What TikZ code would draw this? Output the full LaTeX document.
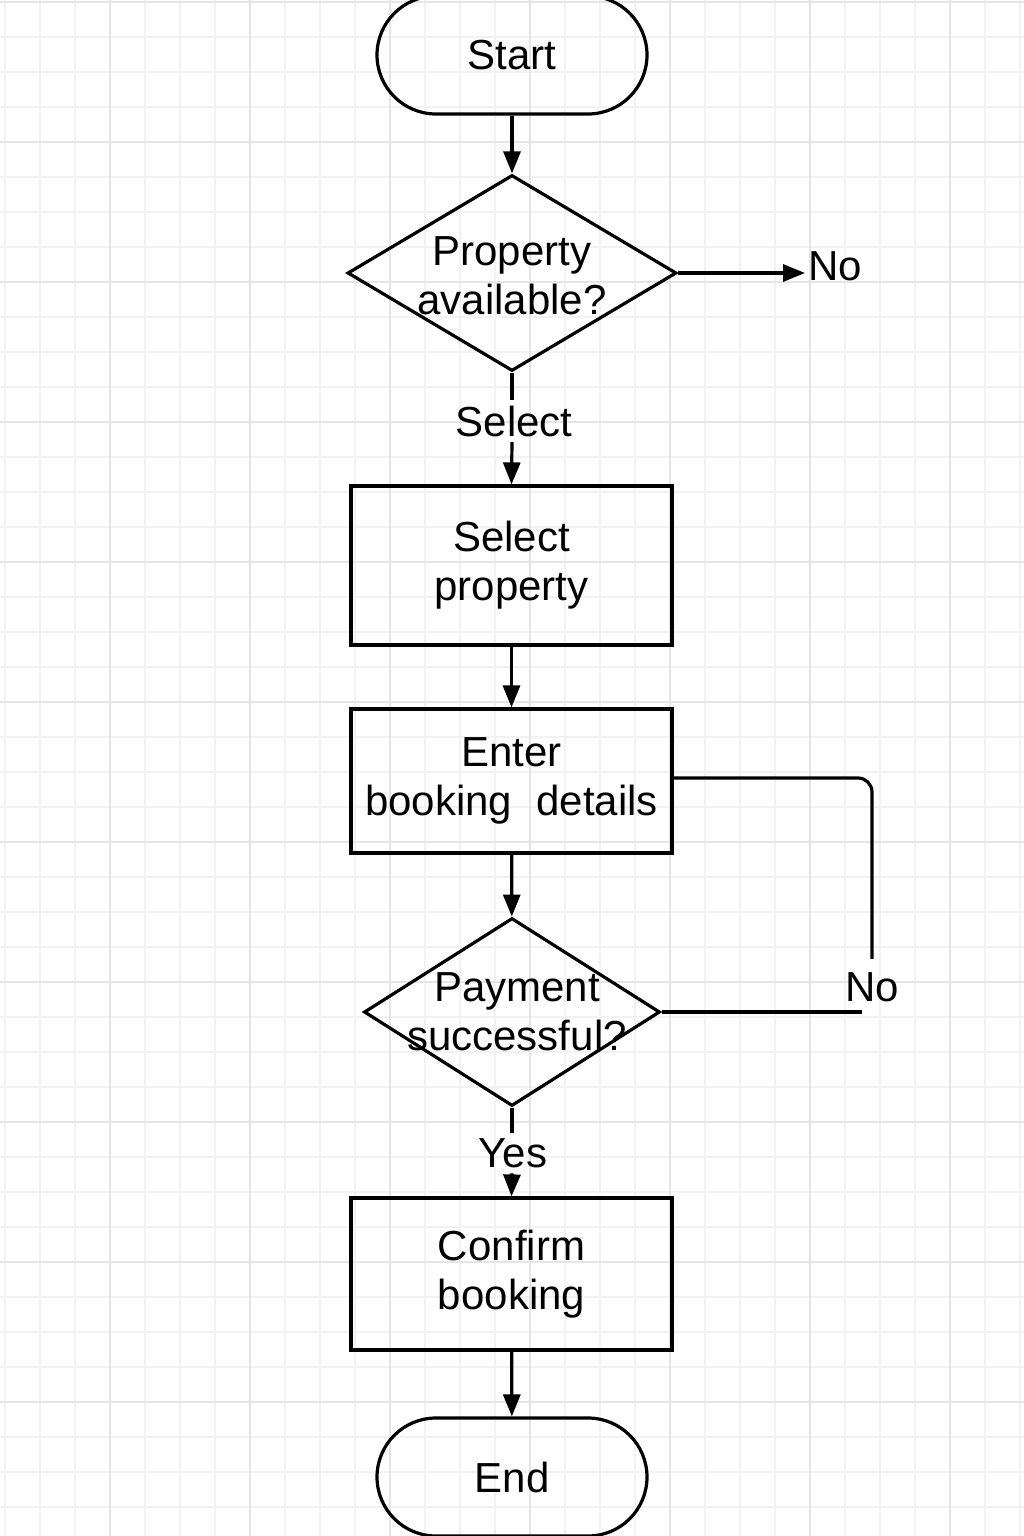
\documentclass[tikz,border=0pt]{standalone}
\usepackage{fontspec}
\setmainfont{Liberation Sans}
\usetikzlibrary{shapes.geometric,arrows.meta}
\begin{document}
\begin{tikzpicture}[x=1pt,y=-1pt,
  line width=3.2pt,
  every node/.style={font=\fontsize{42}{49}\selectfont, align=center, inner sep=4pt},
  terminal/.style={draw, rectangle, rounded corners=59pt, minimum width=270pt, minimum height=118pt, inner sep=0pt},
  procbox/.style={draw, rectangle, minimum width=321pt, inner sep=0pt},
  decision/.style={draw, diamond, inner sep=0pt},
  arr/.style={-{Triangle[length=22pt,width=17pt]}},
  gridminor/.style={draw=black!5, line width=1.2pt},
  gridmajor/.style={draw=black!10, line width=1.5pt}]
\useasboundingbox (0,0) rectangle (1024,1536);
\fill[white] (0,0) rectangle (1024,1536);
% grid
\foreach \x in {5,40,...,1024} \draw[gridminor] (\x,0) -- (\x,1536);
\foreach \y in {2,37,...,1536} \draw[gridminor] (0,\y) -- (1024,\y);
\foreach \x in {110,250,...,1024} \draw[gridmajor] (\x,0) -- (\x,1536);
\foreach \y in {2,142,...,1536} \draw[gridmajor] (0,\y) -- (1024,\y);
% nodes
\node[terminal] (start) at (512,55) {Start};
\node[decision, minimum width=329pt, minimum height=196pt] (d1) at (512,273) {};
\node (d1t) at (512,276) {Property\\available?};
\node[anchor=west, inner sep=2pt] (no1) at (805,266) {No};
\node (sel) at (514,421) {Select};
\node[procbox, minimum height=159pt] (b1) at (511.5,565.5) {Select\\property};
\node[procbox, minimum height=144pt] (b2) at (511.5,781) {Enter\\booking\hspace{0.3em} details};
\node[decision, minimum width=296pt, minimum height=188pt] (d2) at (512,1012) {};
\node (d2t) at (517,1012) {Payment\\successful?};
\node[inner sep=12pt] (no2) at (872,987) {No};
\coordinate (loopend) at (862,1012);
\node (yes) at (513,1153) {Yes};
\node[procbox, minimum height=152pt] (b3) at (511.5,1274) {Confirm\\booking};
\node[terminal] (end) at (512,1477) {End};
% connectors
\draw[arr] (start) -- (d1);
\draw[arr] (d1.east) -- (d1.east -| no1.west);
\draw (d1.south) -- (d1.south |- sel.north);
\draw[arr] (d1.south |- sel.south) -- (b1.north);
\draw[arr] (b1) -- (b2);
\draw[arr] (b2) -- (d2);
\draw (d2.east) -- (loopend);
\draw[rounded corners=14pt] (no2.north) |- ([yshift=3pt]b2.east);
\draw (d2.south) -- (d2.south |- yes.north);
\draw[arr] (d2.south |- yes.south) -- (b3.north);
\draw[arr] (b3) -- (end);
\end{tikzpicture}
\end{document}
